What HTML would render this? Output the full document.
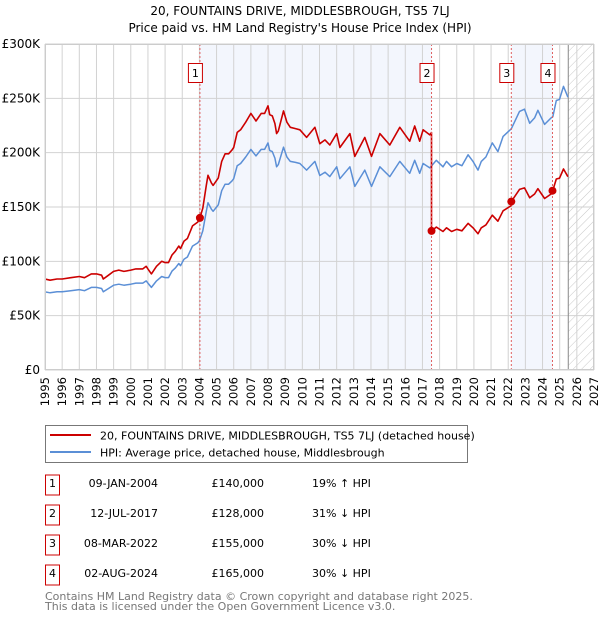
<!DOCTYPE html>
<html><head><meta charset="utf-8">
<style>
body{margin:0;background:#fff;font-family:"DejaVu Sans","Liberation Sans",sans-serif;}
svg text{font-family:"DejaVu Sans","Liberation Sans",sans-serif;}
</style></head>
<body>
<svg id="chart" width="600" height="620" xmlns="http://www.w3.org/2000/svg">
<defs>
<pattern id="hatch" width="6" height="6" patternUnits="userSpaceOnUse" patternTransform="rotate(45)">
<line x1="0" y1="0" x2="0" y2="6" stroke="#c8c8c8" stroke-width="1"/>
</pattern>
<clipPath id="plotclip"><rect x="45" y="44" width="549" height="326"/></clipPath>
</defs>
<text x="300" y="15" text-anchor="middle" font-size="12">20, FOUNTAINS DRIVE, MIDDLESBROUGH, TS5 7LJ</text>
<text x="300" y="32" text-anchor="middle" font-size="12">Price paid vs. HM Land Registry's House Price Index (HPI)</text>
<g id="bg"></g>
<g id="grid"></g>
<g id="series" clip-path="url(#plotclip)"></g>
<g id="marks"></g>
<g id="axes"></g>
<g id="legend">
<rect x="45.5" y="425.5" width="422" height="37" fill="#fff" stroke="#777"/>
<line x1="50" y1="435" x2="91" y2="435" stroke="#cc0000" stroke-width="2"/>
<text x="100" y="439.5" font-size="11">20, FOUNTAINS DRIVE, MIDDLESBROUGH, TS5 7LJ (detached house)</text>
<line x1="50" y1="452" x2="91" y2="452" stroke="#5b8fd6" stroke-width="2"/>
<text x="100" y="456.5" font-size="11">HPI: Average price, detached house, Middlesbrough</text>
</g>
<g id="table"></g>
<text x="45" y="600" font-size="11" fill="#777">Contains HM Land Registry data © Crown copyright and database right 2025.</text>
<text x="45" y="610" font-size="11" fill="#777">This data is licensed under the Open Government Licence v3.0.</text>
</svg>
<script>
const hpiYears=[1995.0,1995.3,1995.7,1996.0,1996.5,1997.0,1997.3,1997.7,1998.0,1998.3,1998.4,1998.7,1999.0,1999.3,1999.6,2000.0,2000.3,2000.7,2000.9,2001.0,2001.2,2001.5,2001.8,2002.0,2002.2,2002.4,2002.6,2002.8,2002.9,2003.1,2003.3,2003.6,2003.9,2004.0,2004.2,2004.4,2004.5,2004.7,2004.8,2005.0,2005.1,2005.3,2005.5,2005.7,2005.9,2006.0,2006.2,2006.4,2006.7,2007.0,2007.2,2007.3,2007.6,2007.8,2008.0,2008.1,2008.25,2008.4,2008.5,2008.6,2008.9,2009.1,2009.3,2009.6,2009.86,2010.25,2010.73,2011.02,2011.32,2011.6,2012.0,2012.19,2012.77,2013.06,2013.64,2014.03,2014.52,2015.1,2015.68,2016.26,2016.55,2016.84,2017.04,2017.43,2017.81,2018.2,2018.4,2018.7,2019.0,2019.3,2019.66,2019.95,2020.24,2020.43,2020.7,2021.07,2021.4,2021.7,2022.18,2022.66,2022.95,2023.25,2023.54,2023.73,2024.12,2024.5,2024.6,2024.8,2024.99,2025.22,2025.48];
const hpiValues=[72,71,72,72,73,74,73,76,76,75,72,75,78,79,78,79,80,80,82,80,76,82,86,85,85,91,94,98,96,102,104,114,117,119,128,146,154,148,146,150,152,165,171,171,174,176,188,190,196,203,199,197,203,203,209,202,201,195,187,189,205,196,192,191,190,184,192,179,182,178,187,176,187,169,184,169,187,178,192,181,193,181,190,186,193,187,192,187,190,188,198,192,184,192,196,209,201,215,222,238,240,227,232,239,226,232,233,248,249,261,251];
const saleYears=[2004.03,2017.53,2022.18,2024.58];
const salePrices=[140,128,155,165];
const saleDates=["09-JAN-2004","12-JUL-2017","08-MAR-2022","02-AUG-2024"];
const salePriceLabels=["£140,000","£128,000","£155,000","£165,000"];
const saleHpiLabels=["19% ↑ HPI","31% ↓ HPI","30% ↓ HPI","30% ↓ HPI"];
const yTicks=[0,50,100,150,200,250,300];
const yTickLabels=["£0","£50K","£100K","£150K","£200K","£250K","£300K"];
const xStart=1995,xEnd=2027,forecastStart=2025.5;

const NS="http://www.w3.org/2000/svg";
const L=45,R=594,T=44,B=370;
function xs(y){return L+(y-xStart)/(xEnd-xStart)*(R-L);}
function ys(v){return B-v/300*(B-T);}
function mk(tag,attrs,parent){const e=document.createElementNS(NS,tag);for(const k in attrs)e.setAttribute(k,attrs[k]);parent.appendChild(e);return e;}
function hpiAt(t){for(let i=1;i<hpiYears.length;i++){if(t<=hpiYears[i]){const f=(t-hpiYears[i-1])/(hpiYears[i]-hpiYears[i-1]);return hpiValues[i-1]+f*(hpiValues[i]-hpiValues[i-1]);}}return hpiValues[hpiValues.length-1];}

const bg=document.getElementById('bg');
let r=mk('rect',{x:L,y:T,width:R-L,height:B-T,fill:'#fff'},bg);


const shades=[[saleYears[0],saleYears[1]],[saleYears[2],saleYears[3]]];
shades.forEach((s,i)=>{const e=mk('rect',{x:xs(s[0]),y:T,width:xs(s[1])-xs(s[0]),height:B-T,fill:'#f3f6fd'},bg);

});
let h=mk('rect',{x:xs(forecastStart),y:T,width:R-xs(forecastStart),height:B-T,fill:'url(#hatch)'},bg);



const grid=document.getElementById('grid');
for(let y=xStart;y<=xEnd;y++){const e=mk('line',{x1:xs(y),x2:xs(y),y1:T,y2:B,stroke:'#d2d2d2','stroke-width':1},grid);

}
yTicks.forEach(v=>{const e=mk('line',{x1:L,x2:R,y1:ys(v),y2:ys(v),stroke:'#d2d2d2','stroke-width':1},grid);

});
let fl=mk('line',{x1:xs(forecastStart),x2:xs(forecastStart),y1:T,y2:B,stroke:'#888','stroke-width':1},grid);



const series=document.getElementById('series');
let d=hpiYears.map((t,i)=>(i?'L':'M')+xs(t).toFixed(1)+','+ys(hpiValues[i]).toFixed(1)).join('');
let hp=mk('path',{d:d,fill:'none',stroke:'#5b8fd6','stroke-width':1.5,'stroke-linejoin':'round'},series);


function segFor(t){let k=-1;for(let i=0;i<saleYears.length;i++)if(t>=saleYears[i])k=i;return k<0?0:k;}
let pts=[];
const times=hpiYears.concat(saleYears).sort((a,b)=>a-b);
times.forEach(t=>{
  const k=segFor(t);
  const idx=saleYears.indexOf(t);
  if(idx>0){const kp=idx-1;pts.push([t,salePrices[kp]*hpiAt(t)/hpiAt(saleYears[kp])]);}
  pts.push([t,salePrices[k]*hpiAt(t)/hpiAt(saleYears[k])]);
});
let d2=pts.map((p,i)=>(i?'L':'M')+xs(p[0]).toFixed(1)+','+ys(p[1]).toFixed(1)).join('');
let pp=mk('path',{d:d2,fill:'none',stroke:'#cc0000','stroke-width':1.6,'stroke-linejoin':'round'},series);



const marks=document.getElementById('marks');
saleYears.forEach((t,i)=>{
  const x=xs(t);
  const l=mk('line',{x1:x,x2:x,y1:T,y2:B,stroke:'#e06060','stroke-width':1,'stroke-dasharray':'2,2'},marks);
  
  
  const c=mk('circle',{cx:x,cy:ys(salePrices[i]),r:4,fill:'#cc0000'},marks);
  
  
  const b=mk('rect',{x:x-11.5,y:63.5,width:14,height:19,fill:'#fff',stroke:'#cc0000'},marks);
  
  
  const tx=mk('text',{x:x-4.5,y:77,'text-anchor':'middle','font-size':11},marks);
  tx.textContent=String(i+1);
  
  
});

const axes=document.getElementById('axes');
let fr=mk('rect',{x:L+0.5,y:T+0.5,width:R-L-1,height:B-T-1,fill:'none',stroke:'#cccccc'},axes);


yTicks.forEach((v,i)=>{const e=mk('text',{x:40,y:ys(v)+4,'text-anchor':'end','font-size':12},axes);e.textContent=yTickLabels[i];

});
for(let y=xStart;y<=xEnd;y++){const x=xs(y)+4;const e=mk('text',{x:x,y:377,'text-anchor':'end','font-size':11.5,transform:'rotate(-90 '+x+' 377)'},axes);e.textContent=String(y);

}

const table=document.getElementById('table');
saleYears.forEach((t,i)=>{
  const cy=485+i*30;
  const b=mk('rect',{x:45.5,y:cy-10,width:14,height:20,fill:'#fff',stroke:'#cc0000'},table);
  
  
  const n=mk('text',{x:52.5,y:cy+2,'text-anchor':'middle','font-size':11},table);n.textContent=String(i+1);
  
  
  const dt=mk('text',{x:158,y:cy+2,'text-anchor':'end','font-size':11},table);dt.textContent=saleDates[i];
  
  
  const pr=mk('text',{x:264,y:cy+2,'text-anchor':'end','font-size':11},table);pr.textContent=salePriceLabels[i];
  
  
  const hp2=mk('text',{x:312,y:cy+2,'font-size':11},table);hp2.textContent=saleHpiLabels[i];
  
  
});
</script>
</body></html>
